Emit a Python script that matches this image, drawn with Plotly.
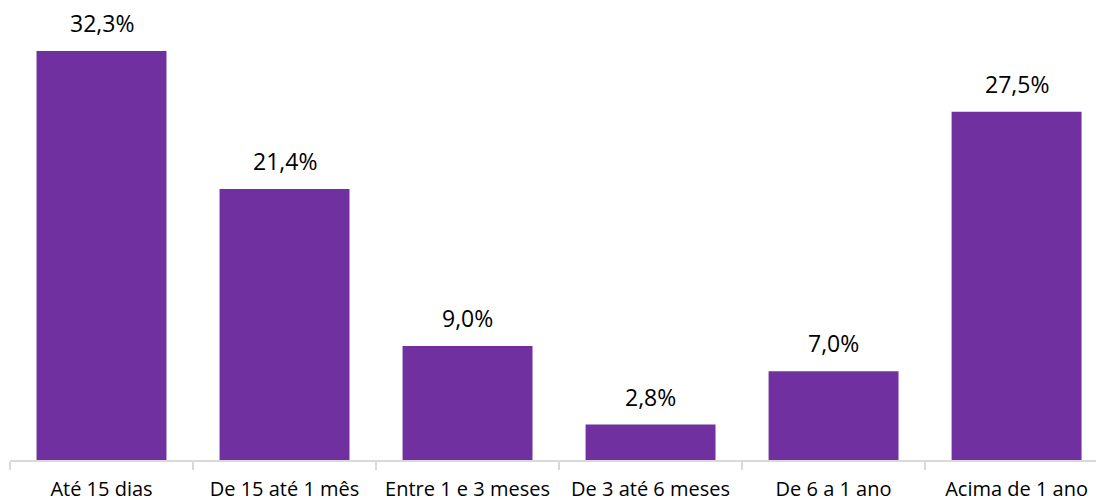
import plotly.graph_objects as go

categories = ["Até 15 dias", "De 15 até 1 mês", "Entre 1 e 3 meses", "De 3 até 6 meses", "De 6 a 1 ano", "Acima de 1 ano"]
values = [32.3, 21.4, 9.0, 2.8, 7.0, 27.5]
labels = ["32,3%", "21,4%", "9,0%", "2,8%", "7,0%", "27,5%"]

FONT = "Open Sans"

fig = go.Figure(go.Bar(
    x=categories, y=values, marker=dict(color="#7030A0", line=dict(width=0)),
    hoverinfo="skip",
))

for c, v, t in zip(categories, values, labels):
    fig.add_annotation(x=c, y=v, text=t, showarrow=False, yanchor="bottom",
                       yshift=10, font=dict(family=FONT, size=23, color="#000000"))

fig.update_layout(
    width=1096, height=502,
    margin=dict(l=10, r=0, t=0, b=42),
    paper_bgcolor="white", plot_bgcolor="white",
    bargap=0.29, showlegend=False,
)
fig.update_xaxes(
    type="category", range=[-0.5, 5.434],
    showline=True, linecolor="#d9d9d9", linewidth=1.5,
    ticks="outside", tickson="boundaries", ticklen=8, tickcolor="#d9d9d9", tickwidth=1.5,
    tickfont=dict(family=FONT, size=20, color="#000000"),
    ticklabelstandoff=10,
    showgrid=False, zeroline=False,
)
fig.update_yaxes(range=[0, 36.33], visible=False, showgrid=False, zeroline=False)

fig.write_html("out.html")
